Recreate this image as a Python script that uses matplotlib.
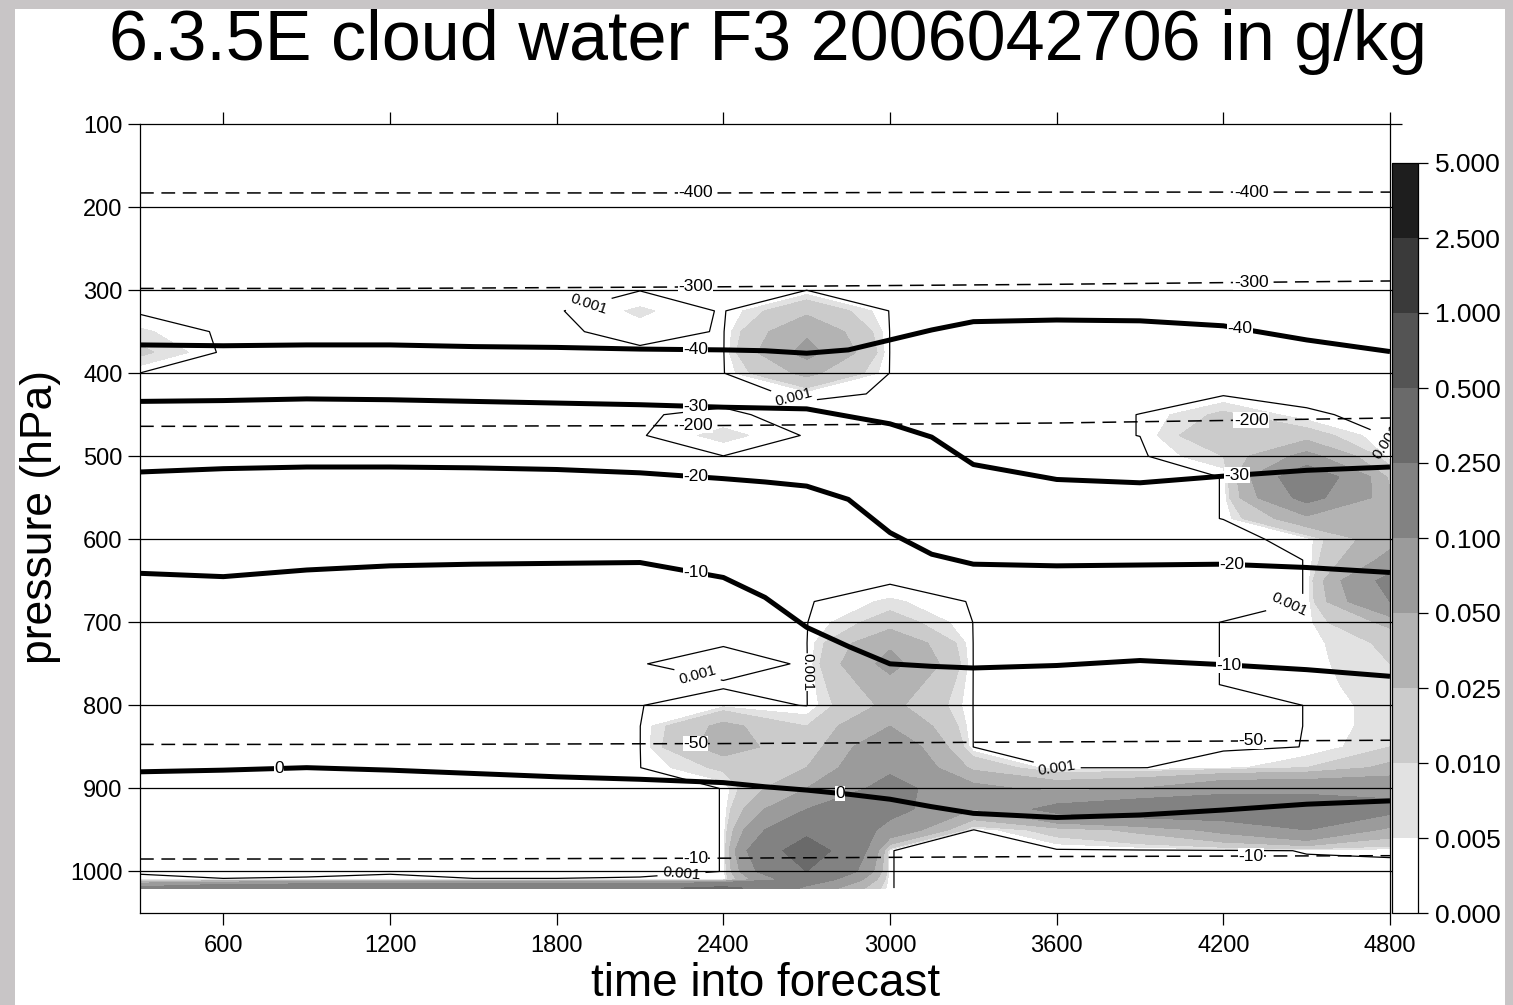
import numpy as np
import matplotlib
matplotlib.use("Agg")
import matplotlib.pyplot as plt
from matplotlib.colors import ListedColormap, BoundaryNorm
from matplotlib.cm import ScalarMappable
from matplotlib.patches import Rectangle

plt.rcParams['font.family'] = ['Liberation Sans', 'DejaVu Sans']

# grid of the cloud water field
times = [300, 600, 900, 1200, 1500, 1800, 2100, 2400, 2700, 3000, 3300, 3600, 3900, 4200, 4500, 4800]
pressures = [275, 300, 325, 350, 375, 400, 425, 450, 475, 500, 525, 550, 575, 600, 625, 650,
             675, 700, 725, 750, 775, 800, 825, 850, 875, 900, 925, 950, 975, 1000, 1010, 1020]

# cloud water (g/kg) per time, {pressure: value}; levels not listed are zero
cw_0300 = {350: 0.006, 375: 0.012, 400: 0.0009, 1010: 0.003, 1020: 0.12}
cw_0600 = {1010: 0.0012, 1020: 0.18}
cw_0900 = {1010: 0.0015, 1020: 0.2}
cw_1200 = {1010: 0.003, 1020: 0.2}
cw_1500 = {1010: 0.0012, 1020: 0.2}
cw_1800 = {325: 0.0005, 1010: 0.0012, 1020: 0.2}
cw_2100 = {300: 0.0008, 325: 0.006, 350: 0.003, 450: 0.0008, 475: 0.0005, 750: 0.0008,
           800: 0.0009, 825: 0.0009, 850: 0.0009, 875: 0.0009, 1010: 0.0015, 1020: 0.2}
cw_2400 = {325: 0.0004, 350: 0.0006, 375: 0.0006, 400: 0.0006, 450: 0.0015, 475: 0.007,
           500: 0.0009, 725: 0.0006, 750: 0.003, 775: 0.0005, 800: 0.003, 825: 0.03,
           850: 0.035, 875: 0.012, 900: 0.00105, 925: 0.00105, 950: 0.00105, 975: 0.00105,
           1000: 0.00105, 1010: 0.00105, 1020: 0.3}
cw_2700 = {300: 0.0009, 325: 0.02, 350: 0.045, 375: 0.06, 400: 0.03, 425: 0.0015,
           475: 0.0005, 500: 0.0008, 675: 0.0005, 700: 0.0008, 725: 0.0008, 750: 0.0005,
           775: 0.0008, 800: 0.0008, 825: 0.01, 850: 0.012, 875: 0.025, 900: 0.05,
           925: 0.1, 950: 0.2, 975: 0.35, 1000: 0.25, 1010: 0.15, 1020: 0.08}
cw_3000 = {325: 0.0007, 350: 0.0008, 375: 0.0008, 400: 0.0008, 425: 0.0008, 675: 0.006,
           700: 0.015, 725: 0.045, 750: 0.06, 775: 0.04, 800: 0.03, 825: 0.05, 850: 0.08,
           875: 0.09, 900: 0.12, 925: 0.12, 950: 0.08, 975: 0.00105, 1000: 0.00105,
           1010: 0.00105, 1020: 0.00105}
cw_3300 = {675: 0.0005, 700: 0.0009, 725: 0.0009, 750: 0.0009, 775: 0.0009, 800: 0.0009,
           825: 0.0009, 850: 0.0009, 875: 0.02, 900: 0.06, 925: 0.05, 950: 0.0008}
cw_3600 = {875: 0.0008, 900: 0.04, 925: 0.12, 950: 0.015}
cw_3900 = {450: 0.00105, 475: 0.00105, 875: 0.0008, 900: 0.05, 925: 0.15, 950: 0.03}
cw_4200 = {450: 0.012, 475: 0.02, 500: 0.01, 525: 0.00105, 550: 0.00105, 575: 0.00105,
           700: 0.00105, 725: 0.00105, 750: 0.00105, 775: 0.00105, 850: 0.0005, 875: 0.003,
           900: 0.08, 925: 0.15, 950: 0.06}
cw_4500 = {450: 0.0015, 475: 0.015, 500: 0.06, 525: 0.15, 550: 0.12, 575: 0.04, 600: 0.002,
           625: 0.00105, 650: 0.00105, 675: 0.00105, 700: 0.003, 725: 0.003, 750: 0.003,
           775: 0.003, 800: 0.00105, 825: 0.00105, 850: 0.00105, 875: 0.01, 900: 0.08,
           925: 0.15, 950: 0.1, 975: 0.0012}
cw_4800 = {500: 0.0015, 525: 0.02, 550: 0.03, 575: 0.03, 600: 0.04, 625: 0.06, 650: 0.12,
           675: 0.1, 700: 0.03, 725: 0.012, 750: 0.01, 775: 0.008, 800: 0.008, 825: 0.008,
           850: 0.01, 875: 0.03, 900: 0.08, 925: 0.12, 950: 0.04, 975: 0.0015}
profiles = [cw_0300, cw_0600, cw_0900, cw_1200, cw_1500, cw_1800, cw_2100, cw_2400,
            cw_2700, cw_3000, cw_3300, cw_3600, cw_3900, cw_4200, cw_4500, cw_4800]

# temperature isotherms (pressure of each isotherm, hPa)
iso_times = [300, 600, 900, 1200, 1500, 1800, 2100, 2400, 2550, 2700, 2850, 3000, 3150,
             3300, 3600, 3900, 4200, 4500, 4800]
iso_m40 = [366, 367, 366, 366, 368, 369, 371, 372, 373, 376, 372, 360, 348, 338, 336, 337, 343, 360, 374]
iso_m30 = [434, 433, 431, 432, 434, 436, 438, 441, 442, 443, 452, 461, 477, 510, 528, 532, 524, 517, 513]
iso_m20 = [519, 515, 513, 513, 514, 516, 520, 527, 531, 536, 552, 592, 618, 630, 632, 631, 630, 634, 640]
iso_m10 = [641, 645, 637, 632, 630, 629, 628, 646, 670, 706, 729, 750, 753, 755, 752, 746, 751, 757, 765]
iso_0 = [880, 878, 875, 878, 882, 886, 889, 893, 898, 902, 907, 913, 922, 930, 935, 932, 926, 919, 915]
isotherms = [(iso_m40, '-40', [2300, 4260]), (iso_m30, '-30', [2300, 4250]),
             (iso_m20, '-20', [2300, 4230]), (iso_m10, '-10', [2300, 4220]),
             (iso_0, '0', [800, 2820])]

# dashed field
dash_times = [300, 1200, 2400, 3600, 4800]
dash_m400 = [183, 183, 183, 182, 182]
dash_m300 = [298, 298, 296, 293, 289]
dash_m200 = [464, 464, 463, 460, 454]
dash_m50 = [847, 847, 846, 844, 842]
dash_m10 = [985, 985, 984, 982, 981]
dashed = [(dash_m400, '-400'), (dash_m300, '-300'), (dash_m200, '-200'),
          (dash_m50, '-50'), (dash_m10, '-10')]

bounds = [0.0, 0.005, 0.01, 0.025, 0.05, 0.1, 0.25, 0.5, 1.0, 2.5, 5.0]
shades = ['#ffffff', '#e2e2e2', '#cbcbcb', '#b3b3b3', '#9b9b9b', '#828282',
          '#6a6a6a', '#545454', '#3a3a3a', '#1e1e1e']
x_ticks = [600, 1200, 1800, 2400, 3000, 3600, 4200, 4800]
y_ticks = [100, 200, 300, 400, 500, 600, 700, 800, 900, 1000]

grid = np.zeros((len(pressures), len(times)))
for j, prof in enumerate(profiles):
    for p, v in prof.items():
        grid[pressures.index(p), j] = v

fig = plt.figure(figsize=(15.13, 10.05), dpi=100)
fig.patch.set_facecolor('#c8c5c6')
fig.add_artist(Rectangle((15 / 1513, 0), 1490 / 1513, 1 - 9 / 1005, transform=fig.transFigure,
                         facecolor='white', edgecolor='none', zorder=-1))

ax = fig.add_axes([140 / 1513, 1 - 913 / 1005, 1250 / 1513, 789 / 1005])
ax.set_facecolor('white')

ax.contourf(times, pressures, grid, levels=bounds[1:], colors=shades[1:], zorder=1)
cl = ax.contour(times, pressures, grid, levels=[0.001], colors='black', linewidths=0.9, zorder=3)
ax.clabel(cl, fmt={0.001: '0.001'}, fontsize=11, inline=True,
          manual=[(1900, 305), (2650, 432), (2300, 770), (2705, 760), (3600, 878),
                  (4760, 485), (4450, 690), (2250, 1005)])

for yt in y_ticks[1:]:
    ax.axhline(yt, color='black', lw=0.9, zorder=2)

for vals, lab in dashed:
    ax.plot(dash_times, vals, color='black', lw=1.1, dashes=(9, 5), zorder=3)
    for t in [2300, 4300]:
        ax.text(t, np.interp(t, dash_times, vals), lab, ha='center', va='center', fontsize=12.5,
                bbox=dict(facecolor='white', edgecolor='none', pad=0.3), zorder=5)

for vals, lab, lt in isotherms:
    ax.plot(iso_times, vals, color='black', lw=3.6, solid_capstyle='butt', zorder=4)
    for t in lt:
        ax.text(t, np.interp(t, iso_times, vals), lab, ha='center', va='center', fontsize=12.5,
                bbox=dict(facecolor='white', edgecolor='none', pad=0.3), zorder=5)

ax.set_xlim(300, 4800)
ax.set_ylim(1050, 100)
ax.set_xticks(x_ticks)
ax.set_yticks(y_ticks)
ax.tick_params(direction='out', length=8.6, width=0.9, labelsize=17, top=True, right=True,
               colors='black')
ax.tick_params(axis='x', pad=7)
ax.tick_params(axis='y', pad=4)
for s in ax.spines.values():
    s.set_linewidth(0.9)

cax = fig.add_axes([1392 / 1513, 1 - 913 / 1005, 26 / 1513, 750 / 1005])
cmap = ListedColormap(shades)
norm = BoundaryNorm(bounds, cmap.N)
cb = fig.colorbar(ScalarMappable(norm=norm, cmap=cmap), cax=cax, boundaries=bounds,
                  spacing='uniform')
cb.set_ticks(bounds, labels=['%.3f' % b for b in bounds])
cb.outline.set_linewidth(0.9)
cax.tick_params(direction='out', length=7, width=0.9, labelsize=19, pad=5)

fig.text(768 / 1513, 1 - 60 / 1005, '6.3.5E cloud water F3 2006042706 in g/kg',
         ha='center', va='baseline', fontsize=50.5)
fig.text(766 / 1513, 1 - 984 / 1005, 'time into forecast', ha='center', va='center', fontsize=33)
fig.text(41 / 1513, 1 - 517 / 1005, 'pressure (hPa)', ha='center', va='center',
         rotation=90, fontsize=32)

fig.savefig('out.png', dpi=100, facecolor=fig.get_facecolor())
